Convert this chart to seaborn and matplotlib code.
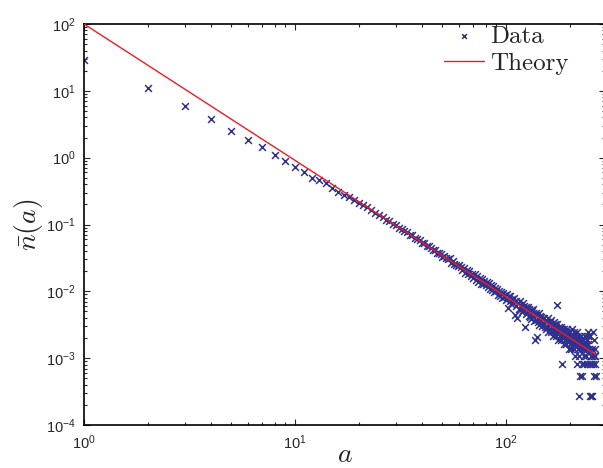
import numpy as np
import pandas as pd

import matplotlib
matplotlib.use("Agg")
import matplotlib.pyplot as plt
import seaborn as sns

# measured mean number n(a) for a = 1 .. 150
n_head = [
    28.9, 10.9, 5.86, 3.74, 2.53, 1.81, 1.44, 1.08, 0.90, 0.73,
    0.60, 0.50, 0.46, 0.42, 0.35, 0.31, 0.28, 0.255, 0.232, 0.212,
    0.196, 0.180, 0.166, 0.150, 0.141, 0.131, 0.117, 0.112, 0.101, 0.098,
    0.089, 0.087, 0.079, 0.076, 0.070, 0.069, 0.062, 0.061, 0.058, 0.053,
    0.052, 0.047, 0.048, 0.044, 0.041, 0.042, 0.038, 0.037, 0.036, 0.033,
    0.034, 0.031, 0.030, 0.031, 0.027, 0.028, 0.026, 0.025, 0.024, 0.025,
    0.023, 0.021, 0.022, 0.019, 0.021, 0.018, 0.020, 0.017, 0.018, 0.016,
    0.018, 0.015, 0.017, 0.014, 0.016, 0.013, 0.0152, 0.0128, 0.0141, 0.0125,
    0.0136, 0.0118, 0.0131, 0.0109, 0.0124, 0.0105, 0.0119, 0.0098, 0.0113, 0.0101,
    0.0108, 0.0089, 0.0102, 0.0084, 0.0097, 0.0079, 0.0093, 0.0081, 0.0088, 0.0074,
    0.0090, 0.0056, 0.0084, 0.0071, 0.0086, 0.0064, 0.0078, 0.0066, 0.0080, 0.0044,
    0.0072, 0.0061, 0.0040, 0.0068, 0.0055, 0.0071, 0.0052, 0.0063, 0.0049, 0.0066,
    0.0053, 0.0061, 0.0029, 0.0058, 0.0046, 0.0048, 0.0059, 0.0043, 0.0055, 0.0041,
    0.0053, 0.0038, 0.0050, 0.0042, 0.0055, 0.0036, 0.0019, 0.0047, 0.0037, 0.0021,
    0.0045, 0.0035, 0.0048, 0.0031, 0.0043, 0.0036, 0.0042, 0.0030, 0.0040, 0.0034,
]

# for a = 151 .. 266 the values sit on discrete levels of one count
count_unit = 2.7e-4
tail_counts = [
    12, 15, 11, 14, 10, 13, 11, 15, 9, 12,
    13, 10, 14, 9, 12, 11, 8, 13, 10, 12,
    9, 11, 8, 12, 23, 10, 7, 11, 9, 10,
    8, 11, 7, 3, 10, 8, 9, 6, 10, 8,
    7, 9, 6, 10, 8, 7, 9, 5, 8, 7,
    9, 6, 8, 5, 10, 7, 6, 8, 5, 9,
    6, 7, 4, 8, 6, 9, 3, 7, 5, 8,
    6, 4, 1, 7, 2, 5, 8, 2, 6, 3,
    7, 5, 4, 6, 3, 8, 5, 0, 6, 4,
    3, 7, 5, 9, 6, 8, 0, 5, 3, 1,
    8, 4, 1, 3, 5, 1, 4, 3, 9, 2,
    4, 7, 5, 3, 4, 2,
]

theory_a = [1, 266]
theory_n = [100, 1.13e-3]

n_all = np.concatenate([n_head, np.array(tail_counts) * count_unit])
a_all = np.arange(1, len(n_all) + 1)
data = pd.DataFrame({"a": a_all, "n": n_all})
data = data[data["n"] > 0]
theory = pd.DataFrame({"a": theory_a, "n": theory_n})

sns.set_style("ticks")
plt.rcParams["font.family"] = ["Liberation Sans", "DejaVu Sans"]
plt.rcParams["mathtext.fontset"] = "cm"

fig = plt.figure(figsize=(6.03, 4.68), dpi=100)
ax = fig.add_axes([84 / 603, 43 / 468, 521 / 603, 401 / 468])

sns.scatterplot(data=data, x="a", y="n", ax=ax, marker="x", s=24,
                color="#2e3192", linewidth=1.1, label="Data", zorder=2)
sns.lineplot(data=theory, x="a", y="n", ax=ax, color="#ed1c24",
             linewidth=1.0, label="Theory", zorder=3)

ax.set_xscale("log")
ax.set_yscale("log")
ax.set_xlim(1, 294.6)
ax.set_ylim(1e-4, 1e2)

ax.tick_params(which="both", direction="in", top=True, right=True,
               labelsize=10.5, width=0.8, pad=6)
ax.tick_params(which="major", length=4)
ax.tick_params(which="minor", length=2.5)
for side in ax.spines.values():
    side.set_linewidth(1.2)
    side.set_color("black")

ax.set_xlabel(r"$a$", fontsize=20, labelpad=-7)
ax.set_ylabel(r"$\bar{n}(a)$", fontsize=20, labelpad=1)

ax.legend(loc="upper right", bbox_to_anchor=(0.949, 1.022), frameon=False,
          prop={"family": "cmr10", "size": 18},
          handlelength=1.6, handletextpad=0.25, labelspacing=0.2,
          borderaxespad=0.0, markerscale=0.7)

fig.savefig("out.png", dpi=100)
